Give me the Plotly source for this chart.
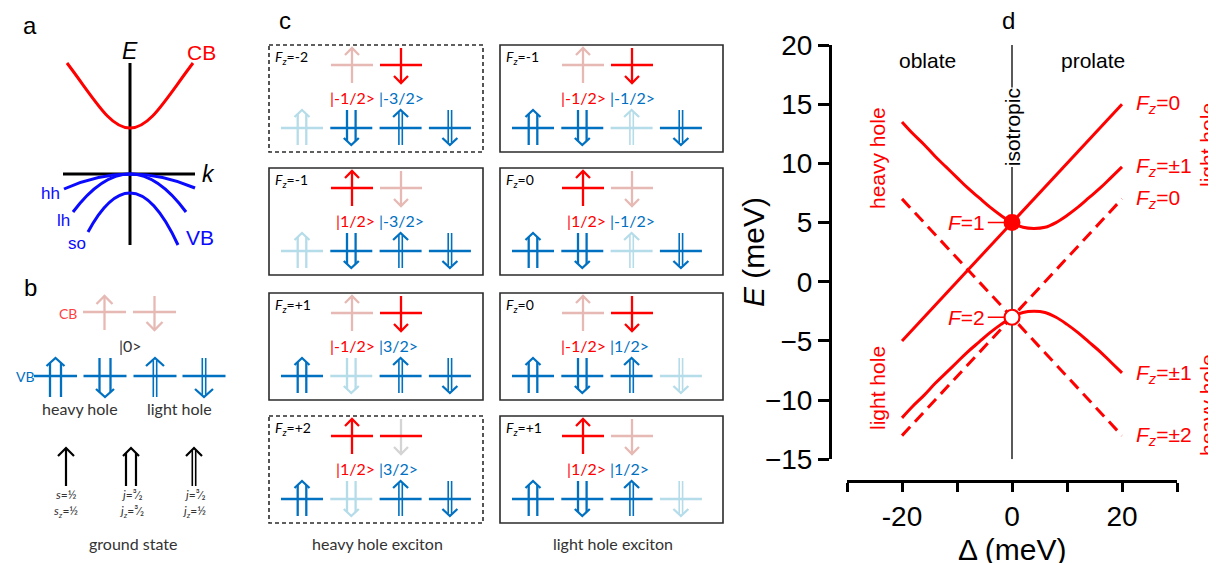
import plotly.graph_objects as go

W, H = 1216, 563
OX, OY = 8, 8  # page offset of the plot div (default body margin)

# ---------------- Panel d data ----------------
delta = [-20, -18, -16, -14, -12, -10, -8, -6, -4, -2, 0, 2, 4, 6, 8, 10, 12, 14, 16, 18, 20]
upper_fz1 = [13.5, 12.5, 11.6, 10.6, 9.7, 8.8, 7.9, 7.1, 6.3, 5.6, 5.0, 4.6, 4.5, 4.6, 5.0, 5.6, 6.3, 7.1, 7.9, 8.8, 9.7]
lower_fz1 = [-11.5, -10.5, -9.6, -8.6, -7.7, -6.8, -5.9, -5.1, -4.3, -3.6, -3.0, -2.6, -2.5, -2.6, -3.0, -3.6, -4.3, -5.1, -5.9, -6.8, -7.7]
line_delta = [-20, 0, 20]
fz0_upper = [-5, 5, 15]
fz0_lower = [-13, -3, 7]
fz2_line = [7, -3, -13]
f1_point = [5]
f2_point = [-3]
point_delta = [0]
y_ticks = [-15, -10, -5, 0, 5, 10, 15, 20]
x_ticks = [-30, -20, -10, 0, 10, 20, 30]
x_ticktext = ["", "-20", "", "0", "", "20", ""]
right_labels = ["<i>F<sub>z</sub></i>=0", "<i>F<sub>z</sub></i>=±1", "<i>F<sub>z</sub></i>=0",
                "<i>F<sub>z</sub></i>=±1", "<i>F<sub>z</sub></i>=±2"]
right_label_y = [15, 9.7, 7, -7.8, -13]

# ---------------- Panel c content ----------------
col_x0 = [269, 500]
col_w = [214, 223]
row_y0 = [45, 168, 293, 416]
box_h = 107
box_fz = [["-2", "-1", "+1", "+2"], ["-1", "0", "0", "+1"]]
box_dashed = [[True, False, False, True], [False, False, False, False]]
box_cb = [["down", "up", "down", "up_gray"], ["down", "up", "down", "up"]]
box_ket_e = [["|-1/2>", "|1/2>", "|-1/2>", "|1/2>"], ["|-1/2>", "|1/2>", "|-1/2>", "|1/2>"]]
box_ket_h = [["|-3/2>", "|-3/2>", "|3/2>", "|3/2>"], ["|-1/2>", "|-1/2>", "|1/2>", "|1/2>"]]
box_vb_empty = [[0, 0, 1, 1], [2, 2, 3, 3]]
col_titles = ["heavy hole exciton", "light hole exciton"]
vb_kinds = [("wide", "up"), ("wide", "down"), ("narrow", "up"), ("narrow", "down")]

# ---------------- styles ----------------
RED = "#ff0000"
PALE = "#e6b9b4"
BLUE = "#0070c0"
LBLUE = "#b5dce9"
GRAY = "#d4d4d4"
DARK = "#333333"
PBLUE = "#0a0aff"
ARIAL = "Liberation Sans, Arial, sans-serif"
CAL = "Lato, Carlito, sans-serif"

shapes = []
annots = []


def seg(x0, y0, x1, y1, color, w=2.5, dash=None, ref=("x2", "y2"), layer="above"):
    ln = dict(color=color, width=w)
    if dash:
        ln["dash"] = dash
    shapes.append(dict(type="line", xref=ref[0], yref=ref[1], x0=x0, y0=y0, x1=x1, y1=y1,
                       line=ln, layer=layer))


def path(d, color, w=2.5):
    shapes.append(dict(type="path", xref="x2", yref="y2", path=d,
                       line=dict(color=color, width=w), fillcolor="rgba(0,0,0,0)", layer="above"))


def txt(x, y, text, size, color, xanchor="center", family=ARIAL, angle=0, ref=("x2", "y2")):
    annots.append(dict(x=x, y=y, xref=ref[0], yref=ref[1], text=text, showarrow=False,
                       xanchor=xanchor, yanchor="middle", textangle=angle,
                       font=dict(size=size, color=color, family=family)))


def arrow(cx, ytop, ybot, direction, kind, color, w=2.3, hw=7, hh=7, gap=4.5):
    if direction == "up":
        hy, ty, s = ytop, ybot, 1
    else:
        hy, ty, s = ybot, ytop, -1
    path(f"M {cx-hw} {hy+s*hh} L {cx} {hy} L {cx+hw} {hy+s*hh}", color, w)
    if kind == "single":
        seg(cx, ty, cx, hy, color, w)
    elif kind == "narrow":
        for dx in (-1.7, 1.7):
            seg(cx + dx, ty, cx + dx, hy + s * 2.2, color, 1.6)
    else:
        for dx in (-gap, gap):
            seg(cx + dx, ty, cx + dx, hy + s * hh * gap / hw, color, w)


# ---------------- Panel a ----------------
txt(30, 25, "a", 24, "black")
seg(130, 63, 130, 245, "black", 3)
seg(63, 174, 195, 174, "black", 3)
path("M 67 63 C 95 100, 110 128, 130 128 C 150 128, 165 100, 193 63", RED, 3)
path("M 64 189 Q 97 174 130 174 Q 162.5 174 195 188", PBLUE, 3)
path("M 73 212 Q 101.5 174 130 174 Q 158 174 186 212", PBLUE, 3)
path("M 88 232 Q 109 193 130 193 Q 154 193 178 245", PBLUE, 3)
txt(130, 51, "<i>E</i>", 23, "black")
txt(208, 174, "<i>k</i>", 23, "black")
txt(201, 52, "CB", 21, RED)
txt(200, 237, "VB", 21, PBLUE)
txt(50, 193, "hh", 17, PBLUE)
txt(63, 220, "lh", 17, PBLUE)
txt(77, 243, "so", 17, PBLUE)

# ---------------- Panel b ----------------
txt(30, 287, "b", 24, "black")
txt(68, 313, "CB", 14, "#ff4040", family=CAL)
for cx, d in [(104.5, "up"), (154.5, "down")]:
    seg(cx - 21.5, 312, cx + 21.5, 312, PALE, 2.5)
    arrow(cx, 296, 330, d, "single", PALE, hw=8, hh=8)
txt(130, 345, "|0>", 16, DARK, family=CAL)
txt(25, 376, "VB", 14, BLUE, family=CAL)
for cx, (kind, d) in zip([55.5, 105, 155, 204], vb_kinds):
    seg(cx - 21.5, 376, cx + 21.5, 376, BLUE, 2.5)
    arrow(cx, 358, 397, d, kind, BLUE, hw=9, hh=8, gap=5.5)
txt(80, 408, "heavy hole", 16, DARK, family=CAL)
txt(179, 408, "light hole", 16, DARK, family=CAL)
for cx, kind, l1, l2 in [(66, "single", "<i>s</i>=½", "<i>s<sub>z</sub></i>=½"),
                         (131, "wide", "<i>j</i>=³⁄₂", "<i>j<sub>z</sub></i>=³⁄₂"),
                         (194, "narrow", "<i>j</i>=³⁄₂", "<i>j<sub>z</sub></i>=½")]:
    arrow(cx, 448, 486, "up", kind, "black", w=2.2, hw=8, hh=8, gap=5)
    txt(cx, 494, l1, 12, DARK, family=CAL)
    txt(cx, 511, l2, 12, DARK, family=CAL)
txt(133, 543, "ground state", 16, DARK, family=CAL)

# ---------------- Panel c ----------------
txt(285, 20, "c", 24, "black")
for c in range(2):
    x0 = col_x0[c]
    for r in range(4):
        y0 = row_y0[r]
        shapes.append(dict(type="rect", xref="x2", yref="y2", x0=x0, y0=y0, x1=x0 + col_w[c], y1=y0 + box_h,
                           line=dict(color="#2b2b2b", width=1.6, dash="4px,3px" if box_dashed[c][r] else None),
                           fillcolor="rgba(0,0,0,0)", layer="above"))
        txt(x0 + 4, y0 + 12, f"<i>F<sub>z</sub></i>={box_fz[c][r]}", 14, "black", xanchor="left", family=CAL)
        state = box_cb[c][r]
        for k, (cx, d) in enumerate([(x0 + 83, "up"), (x0 + 132, "down")]):
            occupied = (state.startswith("up") and k == 0) or (state.startswith("down") and k == 1)
            if state == "up_gray" and k == 1:
                acol, lcol = GRAY, RED
            else:
                acol = lcol = RED if occupied else PALE
            arrow(cx, y0 + 3, y0 + 38, d, "single", acol, hw=7, hh=7)
            seg(cx - 21, y0 + 20, cx + 21, y0 + 20, lcol, 2.5)
        txt(x0 + 108, y0 + 52, box_ket_e[c][r], 16, RED, xanchor="right", family=CAL)
        txt(x0 + 108, y0 + 52, box_ket_h[c][r], 16, BLUE, xanchor="left", family=CAL)
        for k, (kind, d) in enumerate(vb_kinds):
            cx = x0 + 33 + 49.3 * k
            col = LBLUE if box_vb_empty[c][r] == k else BLUE
            seg(cx - 21, y0 + 83, cx + 21, y0 + 83, col, 2.5)
            arrow(cx, y0 + 65, y0 + 100, d, kind, col, hw=7.5, hh=7, gap=4.3)
    txt(x0 + col_w[c] / 2 + 1, 543, col_titles[c], 16, DARK, family=CAL)

# ---------------- Panel d ----------------
txt(1008, 20, "d", 24, "black")
fig = go.Figure()
red_line = dict(color=RED, width=3)
dash_line = dict(color=RED, width=3, dash="12px,7px")
fig.add_trace(go.Scatter(x=delta, y=upper_fz1, mode="lines", line=dict(red_line, shape="spline")))
fig.add_trace(go.Scatter(x=delta, y=lower_fz1, mode="lines", line=dict(red_line, shape="spline")))
fig.add_trace(go.Scatter(x=line_delta, y=fz0_upper, mode="lines", line=red_line))
fig.add_trace(go.Scatter(x=line_delta, y=fz0_lower, mode="lines", line=dash_line))
fig.add_trace(go.Scatter(x=line_delta, y=fz2_line, mode="lines", line=dash_line))
fig.add_trace(go.Scatter(x=point_delta, y=f1_point, mode="markers",
                         marker=dict(size=15, color=RED, line=dict(color=RED, width=2))))
fig.add_trace(go.Scatter(x=point_delta, y=f2_point, mode="markers",
                         marker=dict(size=15, color="white", line=dict(color=RED, width=2.2))))
fig.add_trace(go.Scatter(x=[None], y=[None], xaxis="x2", yaxis="y2", mode="lines"))

seg(0, 20, 0, 16.4, "black", 1.3, ref=("x", "y"), layer="below")
seg(0, 9.7, 0, -15, "black", 1.3, ref=("x", "y"), layer="below")
txt(0, 13.05, "isotropic", 21, "black", angle=-90, ref=("x", "y"))
txt(-15.3, 18.7, "oblate", 21, "black", ref=("x", "y"))
txt(14.7, 18.7, "prolate", 21, "black", ref=("x", "y"))
for lab, yv in zip(right_labels, right_label_y):
    txt(22.2, yv, lab, 21, RED, xanchor="left", ref=("x", "y"))
txt(-4.6, f1_point[0], "<i>F</i>=1", 21, RED, xanchor="right", ref=("x", "y"))
txt(-4.6, f2_point[0], "<i>F</i>=2", 21, RED, xanchor="right", ref=("x", "y"))
seg(-4.4, f1_point[0], -1.2, f1_point[0], RED, 1.5, ref=("x", "y"), layer="below")
seg(-4.4, f2_point[0], -1.0, f2_point[0], RED, 1.5, ref=("x", "y"), layer="below")
txt(877, 158, "heavy hole", 21, RED, angle=-90)
txt(877, 388, "light hole", 21, RED, angle=-90)
txt(1207, 145, "light hole", 21, RED, angle=-90)
txt(1207, 405, "heavy hole", 21, RED, angle=-90)
txt(753, 252, "<i>E</i> (meV)", 30, "black", angle=-90)
txt(1012, 549, "Δ (meV)", 30, "black")

axis_common = dict(showline=True, linewidth=3, linecolor="black", ticks="outside", tickwidth=3,
                   tickcolor="black", showgrid=False, zeroline=False, automargin=False,
                   tickfont=dict(size=28, color="black", family=ARIAL), fixedrange=True)


def fx(p):
    return (p - OX) / W


def fy(p):
    return 1 - (p - OY) / H


fig.update_layout(
    width=W, height=H, margin=dict(l=0, r=0, t=0, b=0, autoexpand=False), showlegend=False,
    paper_bgcolor="white", plot_bgcolor="rgba(0,0,0,0)",
    xaxis=dict(axis_common, domain=[fx(847), fx(1177)], range=[-30, 30], anchor="free",
               position=fy(481), ticklen=9, tickvals=x_ticks, ticktext=x_ticktext),
    yaxis=dict(axis_common, domain=[fy(459.3), fy(45)], range=[-15, 20], anchor="free",
               position=fx(830), ticklen=11, tickvals=y_ticks),
    xaxis2=dict(domain=[0, 1], range=[OX, W + OX], visible=False, anchor="y2", fixedrange=True, automargin=False),
    yaxis2=dict(domain=[0, 1], range=[H + OY, OY], visible=False, anchor="x2", fixedrange=True, automargin=False),
    shapes=shapes, annotations=annots,
)
fig.write_html("out.html")
